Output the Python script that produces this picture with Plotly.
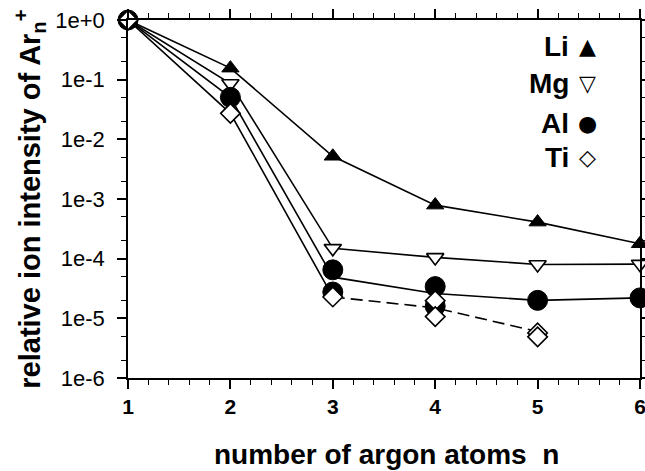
import plotly.graph_objects as go

# ---- data ----
n = [1, 2, 3, 4, 5, 6]
li = [1.0, 0.156, 5.2e-3, 7.9e-4, 4.1e-4, 1.78e-4]
mg = [1.0, 0.086, 1.49e-4, 1.05e-4, 8.0e-5, 8.1e-5]
al_line = [1.0, 0.0506, 4.9e-5, 2.6e-5, 2.0e-5, 2.2e-5]
al_pts_n = [1, 2, 3, 3, 4, 4, 5, 6]
al_pts = [1.0, 0.0506, 6.5e-5, 2.76e-5, 3.4e-5, 1.6e-5, 2.0e-5, 2.2e-5]
ti_solid_n = [1, 2, 3]
ti_solid = [1.0, 0.0273, 2.28e-5]
ti_dash_n = [3, 4, 5]
ti_dash = [2.28e-5, 1.5e-5, 6.0e-6]
ti_pts_n = [1, 2, 3, 4, 4, 5, 5]
ti_pts = [1.0, 0.0273, 2.28e-5, 1.98e-5, 1.07e-5, 5.7e-6, 4.9e-6]

y_tickvals = [1, 1e-1, 1e-2, 1e-3, 1e-4, 1e-5, 1e-6]
y_ticktext = ["1e+0", "1e-1", "1e-2", "1e-3", "1e-4", "1e-5", "1e-6"]
x_tickvals = [1, 2, 3, 4, 5, 6]

legend_names = ["Li", "Mg", "Al", "Ti"]
legend_glyphs = ["\u25B2", "\u25BD", "\u25CF", "\u25C7"]

LW = 1.6
fig = go.Figure()

fig.add_trace(go.Scatter(x=n, y=li, mode="lines+markers", cliponaxis=False,
                         line=dict(color="black", width=LW),
                         marker=dict(symbol="triangle-up", size=15, color="black",
                                     line=dict(color="black", width=1))))
fig.add_trace(go.Scatter(x=n, y=mg, mode="lines+markers", cliponaxis=False,
                         line=dict(color="black", width=LW),
                         marker=dict(symbol="triangle-down", size=15, color="white",
                                     line=dict(color="black", width=1.6))))
fig.add_trace(go.Scatter(x=n, y=al_line, mode="lines", cliponaxis=False,
                         line=dict(color="black", width=LW)))
fig.add_trace(go.Scatter(x=al_pts_n, y=al_pts, mode="markers", cliponaxis=False,
                         marker=dict(symbol="circle", size=20, color="black",
                                     line=dict(color="black", width=1))))
fig.add_trace(go.Scatter(x=ti_solid_n, y=ti_solid, mode="lines", cliponaxis=False,
                         line=dict(color="black", width=LW)))
fig.add_trace(go.Scatter(x=ti_dash_n, y=ti_dash, mode="lines", cliponaxis=False,
                         line=dict(color="black", width=LW, dash="12px,6px")))
fig.add_trace(go.Scatter(x=ti_pts_n, y=ti_pts, mode="markers", cliponaxis=False,
                         marker=dict(symbol="diamond", size=15, color="white",
                                     line=dict(color="black", width=1.6))))

axis_common = dict(showline=True, linecolor="black", linewidth=1.5, mirror="ticks",
                   ticks="outside", tickcolor="black", tickwidth=1.5, showgrid=False,
                   zeroline=False, automargin=False, ticklabeloverflow="allow")

fig.update_xaxes(range=[1, 6], tickvals=x_tickvals, ticklen=9,
                 tickfont=dict(family="Liberation Sans", size=21, color="black", weight="bold"),
                 minor=dict(dtick=0.2, ticks="outside", ticklen=5, tickcolor="black",
                            tickwidth=1.2, showgrid=False),
                 **axis_common)
fig.update_yaxes(type="log", range=[-6, 0], tickvals=y_tickvals, ticktext=y_ticktext,
                 ticklen=9, ticklabelstandoff=8,
                 tickfont=dict(family="Liberation Sans", size=22, color="black"),
                 minor=dict(ticks="outside", ticklen=5, tickcolor="black",
                            tickwidth=1, showgrid=False),
                 **axis_common)

annotations = []
# axis titles
annotations.append(dict(text="number of argon atoms  n", xref="paper", yref="paper",
                        x=0.505, y=-0.215, xanchor="center", yanchor="middle",
                        showarrow=False,
                        font=dict(family="Liberation Sans", size=28, color="black", weight="bold")))
annotations.append(dict(text="relative ion intensity of Ar<sub>n</sub><sup>+</sup>",
                        xref="paper", yref="paper", x=-0.192, y=0.5, textangle=-90,
                        xanchor="center", yanchor="middle", showarrow=False,
                        font=dict(family="Liberation Sans", size=29, color="black", weight="bold")))
# legend
leg_y = [0.9246, 0.824, 0.712, 0.615]
for name, glyph, yy in zip(legend_names, legend_glyphs, leg_y):
    annotations.append(dict(text=name, xref="paper", yref="paper", x=0.866, y=yy,
                            xanchor="right", yanchor="middle", showarrow=False,
                            font=dict(family="Liberation Sans", size=28, color="black",
                                      weight="bold")))
    annotations.append(dict(text=glyph, xref="paper", yref="paper", x=0.898, y=yy,
                            xanchor="center", yanchor="middle", showarrow=False,
                            font=dict(family="DejaVu Sans", size=22, color="black")))

fig.update_layout(width=645, height=471, margin=dict(l=128, r=5, t=20, b=93),
                  paper_bgcolor="white", plot_bgcolor="white", showlegend=False,
                  annotations=annotations)

fig.write_html("out.html")
